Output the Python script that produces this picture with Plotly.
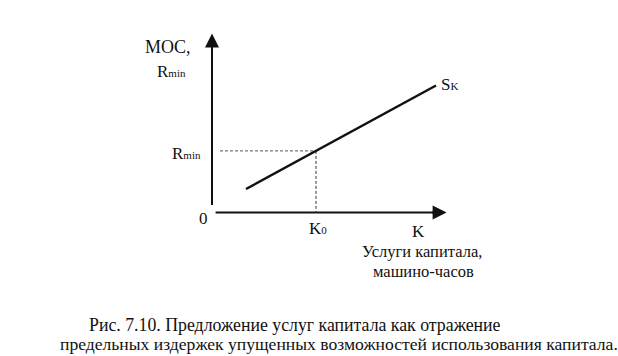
import plotly.graph_objects as go

# ---- data (economic units; origin = axes crossing) ----
K_supply = [1.7, 11.2]          # capital services, machine-hours
MOC_supply = [1.175, 6.35]      # marginal opportunity cost
K0 = 5.2
Rmin = 3.08
x_axis_end = 11.73
y_axis_end = 8.95

W, H = 618, 356
OX, OY, S = 212, 212.5, 20.0   # origin pixel and px per unit (layout only)

FONT = "Liberation Serif, DejaVu Serif, serif"
INK = "#111111"

fig = go.Figure()

# axes lines
fig.add_trace(go.Scatter(x=[0.18, x_axis_end - 0.3], y=[0, 0], mode="lines",
                         line=dict(color=INK, width=2), hoverinfo="skip", showlegend=False))
fig.add_trace(go.Scatter(x=[0, 0], y=[0.375, y_axis_end - 0.3], mode="lines",
                         line=dict(color=INK, width=2), hoverinfo="skip", showlegend=False))

# dashed guides
fig.add_trace(go.Scatter(x=[0.4, K0], y=[Rmin, Rmin], mode="lines",
                         line=dict(color="#555555", width=1, dash="3px,2px"),
                         hoverinfo="skip", showlegend=False))
fig.add_trace(go.Scatter(x=[K0, K0], y=[Rmin, 0], mode="lines",
                         line=dict(color="#333333", width=1, dash="3px,2px"),
                         hoverinfo="skip", showlegend=False))

# supply curve
fig.add_trace(go.Scatter(x=K_supply, y=MOC_supply, mode="lines",
                         line=dict(color=INK, width=2.5), hoverinfo="skip", showlegend=False))

ann = []
# arrowheads
ann.append(dict(x=x_axis_end, y=0, ax=x_axis_end - 0.8, ay=0, xref="x", yref="y",
                axref="x", ayref="y", showarrow=True, arrowhead=2, arrowsize=1.4,
                arrowwidth=2, arrowcolor=INK, text=""))
ann.append(dict(x=0, y=y_axis_end, ax=0, ay=y_axis_end - 0.8, xref="x", yref="y",
                axref="x", ayref="y", showarrow=True, arrowhead=2, arrowsize=1.4,
                arrowwidth=2, arrowcolor=INK, text=""))


def lab(text, px, py, size=16, xanchor="center"):
    ann.append(dict(text=text, x=px / W, y=1 - py / H, xref="paper", yref="paper",
                    showarrow=False, xanchor=xanchor, yanchor="middle", borderpad=0,
                    font=dict(family=FONT, size=size, color=INK)))


sub = "<span style='font-size:11px'>%s</span>"
lab("MOC,", 168, 47, size=18)
lab("R" + sub % "min", 171, 71, size=17)
lab("R" + sub % "min", 186, 153, size=17)
lab("0", 203, 218, size=17)
lab("K" + sub % "0", 318, 228, size=17)
lab("K", 418, 231, size=17)
lab("S" + sub % "K", 449, 85, size=17)
lab("Услуги капитала,", 422, 252, size=16.5)
lab("машино-часов", 423, 271, size=16.5)
lab("Рис. 7.10. Предложение услуг капитала как отражение", 88, 325, size=17.8, xanchor="left")
lab("предельных издержек упущенных возможностей использования капитала.", 59, 344,
    size=17.6, xanchor="left")

fig.update_layout(
    width=W, height=H, margin=dict(l=0, r=0, t=0, b=0),
    paper_bgcolor="white", plot_bgcolor="white",
    font=dict(family=FONT, color=INK),
    xaxis=dict(range=[-OX / S, (W - OX) / S], visible=False, fixedrange=True),
    yaxis=dict(range=[(OY - H) / S, OY / S], visible=False, fixedrange=True),
    annotations=ann, showlegend=False,
)

fig.write_html("out.html", config={"displayModeBar": False, "staticPlot": True},
               post_script="document.body.style.margin='0';document.body.style.overflow='hidden';")
